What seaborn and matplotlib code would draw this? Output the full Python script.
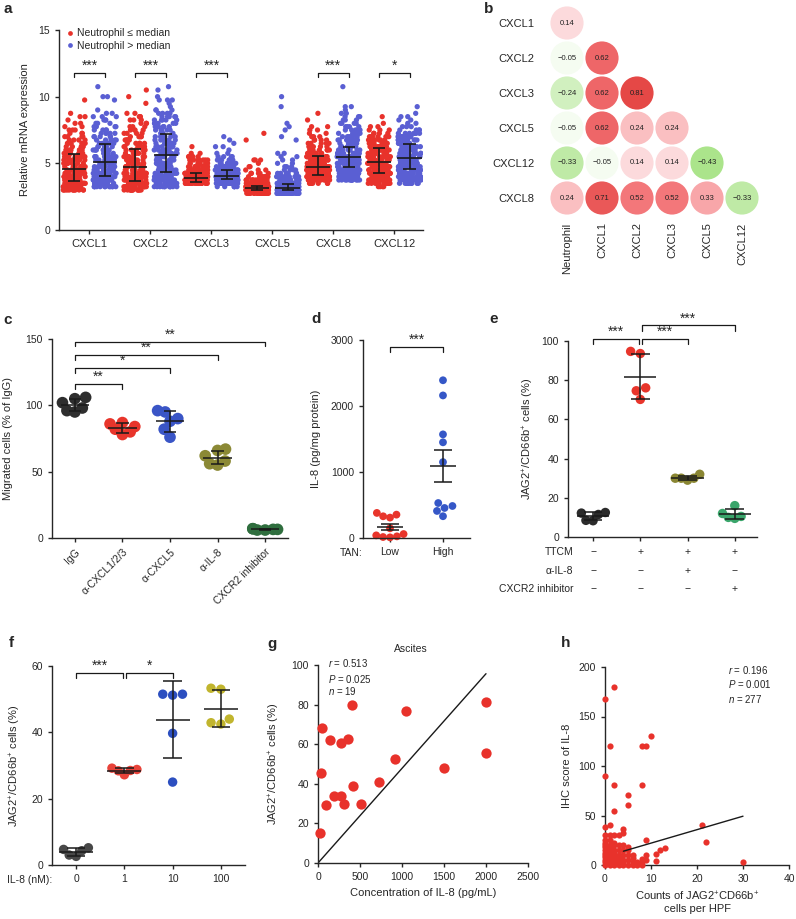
import warnings
import numpy as np
import pandas as pd
import matplotlib
matplotlib.use("Agg")
import matplotlib.pyplot as plt
from matplotlib.colors import LinearSegmentedColormap
from matplotlib import transforms
import seaborn as sns

warnings.filterwarnings("ignore")

# ---------------- panel a: relative mRNA expression ----------------
GENES = ["CXCL1", "CXCL2", "CXCL3", "CXCL5", "CXCL8", "CXCL12"]
GROUPS = ["Neutrophil \u2264 median", "Neutrophil > median"]
BIN = 0.25
LOW_START = [3.0, 3.0, 3.5, 2.75, 3.5, 3.25]
LOW_COUNTS = [
    [12, 17, 17, 16, 15, 15, 10, 10, 9, 9, 8, 7, 6, 5, 5, 4, 4, 3, 3, 2, 2, 1, 2, 1, 0, 0, 0, 1],
    [13, 17, 16, 13, 12, 11, 10, 9, 9, 8, 7, 7, 6, 6, 5, 5, 5, 4, 4, 3, 3, 3, 3, 2, 0, 0, 1, 0, 1, 0, 1],
    [30, 40, 35, 25, 18, 13, 10, 7, 5, 2, 0, 1],
    [25, 60, 40, 22, 14, 9, 5, 3, 2, 1, 3, 0, 0, 0, 0, 0, 1, 0, 1],
    [8, 18, 22, 22, 20, 18, 15, 13, 11, 9, 8, 6, 5, 4, 3, 2, 2, 2, 0, 1, 0, 1],
    [4, 12, 15, 16, 16, 15, 14, 13, 12, 11, 11, 10, 9, 8, 7, 6, 4, 3, 2, 1, 0, 1],
]
HIGH_START = [3.25, 3.25, 3.25, 2.75, 3.75, 3.5]
HIGH_COUNTS = [
    [12, 16, 18, 13, 12, 11, 10, 9, 9, 8, 7, 7, 6, 6, 5, 5, 5, 4, 4, 3, 3, 3, 2, 1, 0, 0, 1, 2, 0, 0, 1],
    [11, 12, 12, 11, 10, 10, 9, 9, 8, 8, 8, 7, 7, 6, 5, 5, 5, 5, 5, 5, 5, 5, 4, 3, 1, 1, 3, 1, 0, 1, 1],
    [6, 22, 35, 35, 28, 20, 13, 9, 6, 4, 2, 1, 2, 1, 1, 1],
    [30, 52, 35, 20, 13, 9, 6, 4, 3, 2, 2, 2, 2, 0, 0, 0, 1, 1, 0, 1, 1, 1, 0, 0, 0, 0, 1, 0, 0, 1],
    [12, 14, 15, 16, 15, 14, 13, 12, 11, 10, 9, 8, 7, 6, 5, 5, 4, 4, 3, 3, 2, 1, 2, 0, 0, 0, 0, 0, 1],
    [10, 13, 14, 14, 14, 13, 13, 12, 12, 11, 10, 10, 9, 9, 8, 7, 4, 3, 2, 2, 2, 1, 0, 1],
]
LOW_MEDIAN = [4.55, 4.7, 3.87, 3.15, 4.72, 5.1]
LOW_Q1 = [3.7, 3.68, 3.62, 3.0, 4.13, 4.25]
LOW_Q3 = [5.68, 6.08, 4.25, 3.3, 5.53, 6.13]
HIGH_MEDIAN = [5.08, 5.65, 4.07, 3.18, 5.45, 5.38]
HIGH_Q1 = [4.05, 4.37, 3.8, 3.0, 4.72, 4.55]
HIGH_Q3 = [6.48, 7.18, 4.48, 3.43, 6.22, 6.48]
A_SIG = ["***", "***", "***", "", "***", "*"]

# ---------------- panel b: correlation matrix ----------------
B_ROWS = ["CXCL1", "CXCL2", "CXCL3", "CXCL5", "CXCL12", "CXCL8"]
B_COLS = ["Neutrophil", "CXCL1", "CXCL2", "CXCL3", "CXCL5", "CXCL12"]
B_R = [
    [0.14],
    [-0.05, 0.62],
    [-0.24, 0.62, 0.81],
    [-0.05, 0.62, 0.24, 0.24],
    [-0.33, -0.05, 0.14, 0.14, -0.43],
    [0.24, 0.71, 0.52, 0.52, 0.33, -0.33],
]

# ---------------- panel c: migration ----------------
C_LABELS = ["IgG", "\u03b1-CXCL1/2/3", "\u03b1-CXCL5", "\u03b1-IL-8", "CXCR2 inhibitor"]
C_VALUES = [
    [106, 105, 102, 98, 96, 95],
    [87, 86, 84, 82, 80, 78],
    [96, 95, 90, 88, 82, 76],
    [67, 66, 62, 58, 56, 55],
    [7, 7, 6.5, 6.5, 6, 6],
]
C_SIG = [(1, "**"), (2, "*"), (3, "**"), (4, "**")]

# ---------------- panel d: IL-8 by TAN ----------------
D_LABELS = ["Low", "High"]
D_VALUES = [
    [380, 354, 329, 309, 147, 60, 40, 25, 15, 10],
    [2390, 2160, 1570, 1450, 1150, 530, 485, 455, 410, 330],
]

# ---------------- panel e: JAG2+ cells with TTCM ----------------
E_GROUPS = ["control", "TTCM", "TTCM + a-IL-8", "TTCM + CXCR2 inhibitor"]
E_VALUES = [
    [12.5, 12.2, 11.5, 8.3, 8.5],
    [94.7, 93.6, 76.1, 74.6, 70.2],
    [32, 30, 30, 30, 29],
    [16, 12, 10.5, 10, 9.5],
]
E_ROWS = ["TTCM", "\u03b1-IL-8", "CXCR2 inhibitor"]
E_SIGNS = [
    ["\u2212", "+", "+", "+"],
    ["\u2212", "\u2212", "+", "\u2212"],
    ["\u2212", "\u2212", "\u2212", "+"],
]

# ---------------- panel f: IL-8 dose ----------------
F_LABELS = ["0", "1", "10", "100"]
F_VALUES = [
    [5.2, 4.7, 4.3, 3.0, 2.6],
    [29.2, 28.8, 28.5, 28.4, 27.2],
    [51.5, 51.2, 51.5, 39.7, 25.0],
    [53.3, 53.0, 44.0, 42.5, 42.9],
]

# ---------------- panel g: ascites ----------------
G_X = [20, 40, 52, 99, 147, 187, 278, 270, 310, 357, 401, 417, 516, 726, 913, 1044, 1496, 2000, 2000]
G_Y = [15, 45.5, 68.4, 29.4, 62, 34, 60.5, 33.6, 30, 62.5, 80, 38.7, 29.7, 40.7, 52.6, 76.8, 48.2, 81.5, 55.6]
G_FIT = (0.0478, 0.0)
G_FIT_RANGE = [0, 2000]

# ---------------- panel h: IHC ----------------
H_X = [0, 2, 1, 0, 2, 2, 8, 9, 10, 8, 5, 5, 1, 0, 21, 22, 30, 13, 12, 11, 11, 9, 9, 9, 8, 7, 6, 6,
       5, 4, 4, 3, 2, 1,
       0, 0, 0, 0, 0, 0, 0, 0, 0, 0, 0, 0,
       1, 1, 1, 1, 1, 1, 1, 1, 1, 1,
       2, 2, 2, 2, 2, 2, 2, 2, 2,
       3, 3, 3, 3, 3, 3, 3,
       4, 4, 4, 4, 4, 4,
       5, 5, 5, 5, 6, 6, 7, 8, 8]
H_Y = [168, 180, 120, 90, 81, 55, 120, 120, 130, 81, 71, 61, 40, 38, 40, 23.5, 3.4, 17, 15, 11, 4.4,
       25, 10, 5, 6, 3.4, 10, 3.4, 18.5, 36, 32, 30, 30, 30,
       0, 3, 5, 8, 10, 12, 15, 18, 20, 22, 25, 30,
       0, 2, 5, 8, 10, 12, 15, 18, 20, 25,
       0, 3, 5, 8, 10, 12, 15, 20, 22,
       0, 2, 5, 8, 10, 15, 20,
       0, 3, 5, 10, 15, 20,
       0, 5, 10, 15, 0, 7, 0, 0, 3]
H_FIT = (1.36, 8.5)
H_FIT_RANGE = [4, 30]

RED = "#e8322b"
BLUE_A = "#5a5fd3"
C_COLORS = ["#2e2e2e", "#e8352b", "#3a55c6", "#8b8935", "#2f6e3e"]
D_COLORS = ["#e8352b", "#3557c7"]
E_COLORS = ["#2b2b2b", "#e8352b", "#8a8633", "#3aa56b"]
F_COLORS = ["#484848", "#e8433a", "#2c4fc0", "#c1b52e"]

sns.set_theme(style="ticks")
plt.rcParams["font.family"] = ["Liberation Sans", "DejaVu Sans"]
plt.rcParams["mathtext.fontset"] = "custom"
plt.rcParams["mathtext.rm"] = "Liberation Sans"
plt.rcParams["mathtext.it"] = "Liberation Sans:italic"
plt.rcParams["axes.linewidth"] = 1.0
plt.rcParams["xtick.major.width"] = 1.0
plt.rcParams["ytick.major.width"] = 1.0
plt.rcParams["xtick.major.size"] = 3
plt.rcParams["ytick.major.size"] = 3
plt.rcParams["xtick.labelsize"] = 7.5
plt.rcParams["ytick.labelsize"] = 7.5
plt.rcParams["axes.labelsize"] = 8

FS = 7.5
STAR = 10
W, H = 796, 919
fig = plt.figure(figsize=(W / 100, H / 100), dpi=100)


def add_ax(left, top, right, bottom):
    # pixel box -> figure fraction
    return fig.add_axes([left / W, 1 - bottom / H, (right - left) / W, (bottom - top) / H])


def bracket(ax, x1, x2, y, tip, text, fs=STAR):
    ax.plot([x1, x1, x2, x2], [tip, y, y, tip], color="k", lw=0.9, clip_on=False)
    ax.text((x1 + x2) / 2, y, text, ha="center", va="bottom", fontsize=fs, clip_on=False)


def dot_panel(ax, labels, values, colors, size, err, half, cap):
    df = pd.DataFrame({"g": np.repeat(labels, [len(v) for v in values]),
                       "v": np.concatenate([np.asarray(v, float) for v in values])})
    sns.swarmplot(data=df, x="g", y="v", hue="g", order=labels, hue_order=labels,
                  palette=colors, size=size, linewidth=0, legend=False, ax=ax,
                  clip_on=False, zorder=2, warn_thresh=1)
    for i, v in enumerate(values):
        v = np.asarray(v, float)
        m = v.mean()
        d = v.std(ddof=1)
        if err == "sem":
            d /= np.sqrt(len(v))
        ax.hlines(m, i - half, i + half, color="k", lw=1.1, zorder=3)
        ax.hlines([m - d, m + d], i - cap, i + cap, color="k", lw=1.1, zorder=3)
        ax.vlines(i, m - d, m + d, color="k", lw=1.1, zorder=3)
    ax.set_xlabel("")
    sns.despine(ax=ax)


def squeeze_swarm(ax, lim=0.26):
    # GraphPad-style scatter: cap the swarm width and let the dots overlap
    for coll in ax.collections:
        if "draw" in coll.__dict__:
            off = coll.get_offsets().copy()
            if len(off):
                c = np.round(off[:, 0])
                dx = off[:, 0] - c
                widest = np.abs(dx).max()
                if widest > lim:
                    off[:, 0] = c + dx * lim / widest
                del coll.draw
                coll.set_offsets(off)


# ---------------- a ----------------
ax = add_ax(59, 30, 423, 230)
parts = []
for gi in range(len(GENES)):
    for gname, starts, counts, off in ((GROUPS[0], LOW_START, LOW_COUNTS, -0.25),
                                       (GROUPS[1], HIGH_START, HIGH_COUNTS, 0.25)):
        vals = np.repeat(starts[gi] + BIN * np.arange(len(counts[gi])), counts[gi])
        parts.append(pd.DataFrame({"x": gi + off, "value": vals, "group": gname}))
df_a = pd.concat(parts, ignore_index=True)
np.random.seed(3)
sns.stripplot(data=df_a, x="x", y="value", hue="group", hue_order=GROUPS,
              palette=[RED, BLUE_A], native_scale=True, jitter=0.38, size=3.8,
              linewidth=0, ax=ax, zorder=2)
for gi in range(len(GENES)):
    for off, med, q1, q3 in ((-0.25, LOW_MEDIAN, LOW_Q1, LOW_Q3), (0.25, HIGH_MEDIAN, HIGH_Q1, HIGH_Q3)):
        x = gi + off
        ax.hlines(med[gi], x - 0.2, x + 0.2, color="k", lw=1.2, zorder=3)
        ax.hlines([q1[gi], q3[gi]], x - 0.1, x + 0.1, color="k", lw=1.2, zorder=3)
        ax.vlines(x, q1[gi], q3[gi], color="k", lw=1.2, zorder=3)
    if A_SIG[gi]:
        bracket(ax, gi - 0.25, gi + 0.25, 11.8, 11.45, A_SIG[gi])
ax.set_xlim(-0.5, 5.47)
ax.set_ylim(0, 15)
ax.set_yticks([0, 5, 10, 15])
ax.set_xticks(range(len(GENES)), GENES, fontsize=8)
ax.set_xlabel("")
ax.set_ylabel("Relative mRNA expression", labelpad=6)
sns.despine(ax=ax)
sns.move_legend(ax, "upper left", bbox_to_anchor=(0.0, 1.04), frameon=False, title=None,
                fontsize=FS, handletextpad=0.1, borderaxespad=0.2, labelspacing=0.25,
                handlelength=1.0, markerscale=0.9)

# ---------------- b ----------------
axb = add_ax(549.5, 5.5, 759.5, 215.5)
cells = [(ri, ci, r) for ri, row in enumerate(B_R) for ci, r in enumerate(row)]
df_b = pd.DataFrame(cells, columns=["row", "col", "r"])
corr_cmap = LinearSegmentedColormap.from_list(
    "gr", [(0.0, "#4cae20"), (0.25, "#9fe07a"), (0.5, "#ffffff"), (0.75, "#f47a7e"), (1.0, "#dc2a24")])
sns.scatterplot(data=df_b, x="col", y="row", hue="r", palette=corr_cmap, hue_norm=(-1, 1),
                s=570, linewidth=0, legend=False, ax=axb)
for _, rec in df_b.iterrows():
    axb.text(rec["col"], rec["row"], f"{rec['r']:.2f}".replace("-", "\u2212"),
             ha="center", va="center", fontsize=5.5, color="#222222")
axb.set_xlim(-0.5, 5.5)
axb.set_ylim(5.5, -0.5)
axb.set_xticks(range(len(B_COLS)), B_COLS, rotation=90, fontsize=8)
axb.set_yticks(range(len(B_ROWS)), B_ROWS, fontsize=8)
axb.tick_params(length=0)
axb.tick_params(axis="y", pad=11)
axb.tick_params(axis="x", pad=5)
axb.set_xlabel("")
axb.set_ylabel("")
for s in axb.spines.values():
    s.set_visible(False)

# ---------------- c ----------------
axc = add_ax(52, 339, 288, 538)
axc.set_ylim(0, 150)
dot_panel(axc, C_LABELS, C_VALUES, C_COLORS, 8.4, "sd", 0.3, 0.13)
for j, star in C_SIG:
    y = [116, 128, 138, 148][j - 1]
    bracket(axc, 0, j, y, y - 3.5, star)
axc.set_xlim(-0.48, 4.48)
axc.set_ylim(0, 150)
axc.set_yticks([0, 50, 100, 150])
axc.set_xticks(range(len(C_LABELS)), C_LABELS, rotation=45, ha="right", rotation_mode="anchor")
axc.set_ylabel("Migrated cells (% of IgG)", labelpad=9)

# ---------------- d ----------------
axd = add_ax(363, 340, 470, 538)
dot_panel(axd, D_LABELS, D_VALUES, D_COLORS, 5.6, "sem", 0.25, 0.17)
bracket(axd, 0, 1, 2900, 2820, "***")
axd.set_xlim(-0.51, 1.51)
axd.set_ylim(0, 3000)
axd.set_yticks([0, 1000, 2000, 3000])
axd.set_ylabel("IL-8 (pg/mg protein)", labelpad=7)
axd.text(0.0, -0.076, "TAN:", transform=axd.transAxes, ha="right", va="center", fontsize=FS)

# ---------------- e ----------------
axe = add_ax(568, 341, 757, 537)
dot_panel(axe, E_GROUPS, E_VALUES, E_COLORS, 6.8, "sd", 0.34, 0.2)
bracket(axe, 0, 0.97, 101, 98.3, "***")
bracket(axe, 1.03, 2, 101, 98.3, "***")
bracket(axe, 1.03, 3, 108, 105.3, "***")
axe.set_xlim(-0.53, 3.47)
axe.set_ylim(0, 100)
axe.set_yticks(range(0, 101, 20))
axe.set_xticks(range(len(E_GROUPS)), [""] * len(E_GROUPS))
axe.set_ylabel("JAG2$^{+}$/CD66b$^{+}$ cells (%)", labelpad=4)
blend = transforms.blended_transform_factory(axe.transData, axe.transAxes)
for yy, lab, signs in zip([-0.077, -0.173, -0.265], E_ROWS, E_SIGNS):
    axe.text(-0.42, yy, lab, transform=blend, ha="right", va="center", fontsize=FS)
    for i, sg in enumerate(signs):
        axe.text(i, yy, sg, transform=blend, ha="center", va="center", fontsize=FS)

# ---------------- f ----------------
axf = add_ax(52, 666, 245, 865)
dot_panel(axf, F_LABELS, F_VALUES, F_COLORS, 6.8, "sd", 0.35, 0.19)
bracket(axf, 0, 0.97, 58, 56.5, "***")
bracket(axf, 1.03, 2, 58, 56.5, "*")
axf.set_xlim(-0.5, 3.5)
axf.set_ylim(0, 60)
axf.set_yticks([0, 20, 40, 60])
axf.set_ylabel("JAG2$^{+}$/CD66b$^{+}$ cells (%)", labelpad=6)
axf.text(0.0, -0.075, "IL-8 (nM):", transform=axf.transAxes, ha="right", va="center", fontsize=FS)

# ---------------- g ----------------
axg = add_ax(318, 665, 528, 863)
sns.scatterplot(x=G_X, y=G_Y, color=RED, s=55, linewidth=0, ax=axg, clip_on=False, zorder=3)
gx = np.array(G_FIT_RANGE, float)
sns.lineplot(x=gx, y=G_FIT[0] * gx + G_FIT[1], color="k", lw=1.0, ax=axg)
axg.set_xlim(0, 2500)
axg.set_ylim(0, 100)
axg.set_xticks(range(0, 2501, 500))
axg.set_yticks(range(0, 101, 20))
axg.set_xlabel("Concentration of IL-8 (pg/mL)")
axg.set_ylabel("JAG2$^{+}$/CD66b$^{+}$ cells (%)", labelpad=7)
axg.set_title("Ascites", fontsize=FS, x=0.44, pad=9)
for yy, s in zip([1.011, 0.931, 0.871], ["$r$ = 0.513", "$P$ = 0.025", "$n$ = 19"]):
    axg.text(0.048, yy, s, transform=axg.transAxes, ha="left", va="center", fontsize=7)
sns.despine(ax=axg)

# ---------------- h ----------------
axh = add_ax(605, 667, 789, 865)
sns.scatterplot(x=H_X, y=H_Y, color=RED, s=20, linewidth=0, ax=axh, clip_on=False, zorder=3)
hx = np.array(H_FIT_RANGE, float)
sns.lineplot(x=hx, y=H_FIT[0] * hx + H_FIT[1], color="k", lw=1.0, ax=axh, zorder=4)
axh.set_xlim(0, 40)
axh.set_ylim(0, 200)
axh.set_xticks(range(0, 41, 10))
axh.set_yticks(range(0, 201, 50))
axh.set_xlabel("Counts of JAG2$^{+}$CD66b$^{+}$\ncells per HPF")
axh.set_ylabel("IHC score of IL-8", labelpad=5)
for yy, s in zip([0.985, 0.914, 0.838], ["$r$ = 0.196", "$P$ = 0.001", "$n$ = 277"]):
    axh.text(0.67, yy, s, transform=axh.transAxes, ha="left", va="center", fontsize=7)
sns.despine(ax=axh)

# panel letters
for letter, (px, py) in {"a": (3, 2), "b": (484, 2), "c": (3, 313), "d": (311, 312),
                         "e": (489, 312), "f": (9, 636), "g": (267, 637), "h": (561, 636)}.items():
    fig.text(px / W, 1 - py / H, letter, fontsize=11, fontweight="bold", ha="left", va="top")

# lay the swarms out once, then cap their width like the original
fig.canvas.draw()
for a_ in (axc, axd, axe, axf):
    squeeze_swarm(a_)

fig.savefig("out.png", dpi=100)
